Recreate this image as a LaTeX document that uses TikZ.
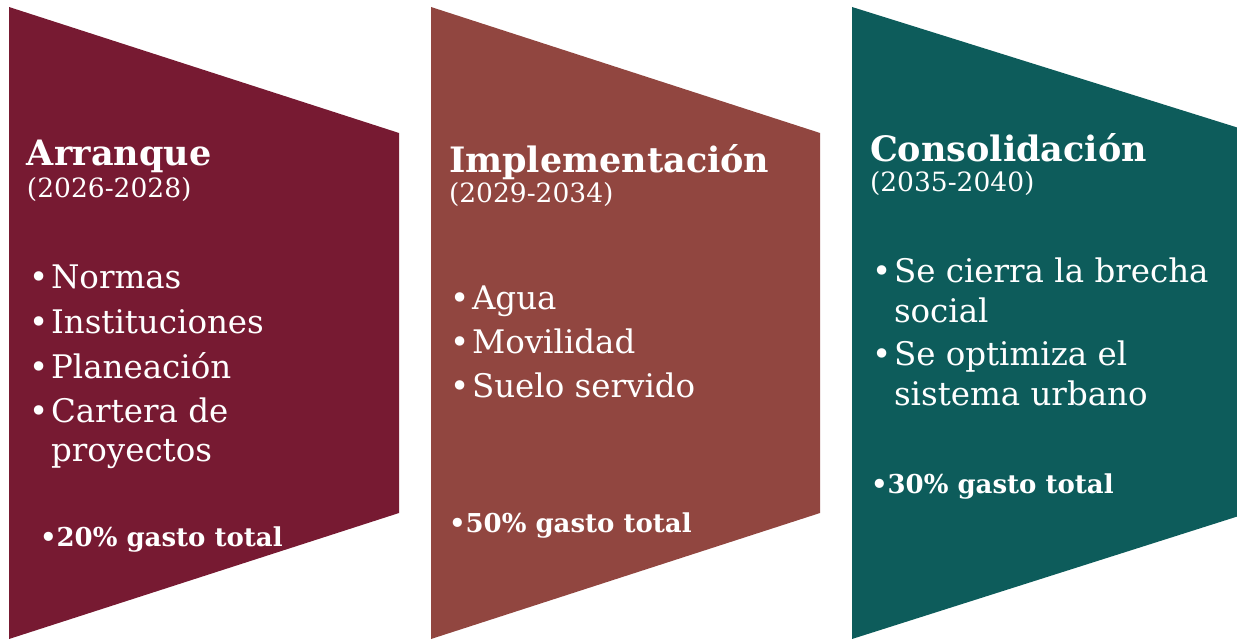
\documentclass[tikz,border=0pt]{standalone}
\usepackage{fontspec}
\setmainfont{DejaVu Serif}
\definecolor{pone}{HTML}{771A32}
\definecolor{ptwo}{HTML}{914640}
\definecolor{pthree}{HTML}{0D5C5B}
\begin{document}
\begin{tikzpicture}[x=1pt,y=-1pt,
  txt/.style={anchor=base west,inner sep=0pt,outer sep=0pt,text=white},
  title/.style={txt,font=\fontsize{35}{40}\bfseries\selectfont},
  years/.style={txt,font=\fontsize{26.5}{30}\selectfont},
  body/.style={txt,font=\fontsize{32.5}{40}\selectfont},
  share/.style={txt,font=\fontsize{26}{30}\bfseries\selectfont}]
\useasboundingbox (0,0) rectangle (1237,639);
\fill[white] (0,0) rectangle (1237,639);
% panels
\fill[pone]   (9,7) -- (399,133) -- (399,513) -- (9,639) -- cycle;
\fill[ptwo]   (431,7) -- (820,133) -- (820,513) -- (431,639) -- cycle;
\fill[pthree] (852,7) -- (1242,129) -- (1242,515) -- (852,639) -- cycle;
% panel 1
\node[title] (t1) at (27,166) {Arranque};
\node[years] (y1) at (27,198) {(2026-2028)};
\node[body] (a1) at (29,288) {\makebox[22pt][l]{•}Normas};
\node[body] (a2) at (29,333) {\makebox[22pt][l]{•}Instituciones};
\node[body] (a3) at (29,378) {\makebox[22pt][l]{•}Planeación};
\node[body] (a4) at (29,422) {\makebox[22pt][l]{•}Cartera de};
\node[body] (a5) at (51,461) {proyectos};
\node[share] (s1) at (40,546) {•20\% gasto total};
% panel 2
\node[title] (t2) at (449,173) {Implementación};
\node[years] (y2) at (449,203) {(2029-2034)};
\node[body] (b1) at (450,309) {\makebox[22pt][l]{•}Agua};
\node[body] (b2) at (450,353) {\makebox[22pt][l]{•}Movilidad};
\node[body] (b3) at (450,397) {\makebox[22pt][l]{•}Suelo servido};
\node[share] (s2) at (449,532) {•50\% gasto total};
% panel 3
\node[title] (t3) at (870,162) {Consolidación};
\node[years] (y3) at (870,192) {(2035-2040)};
\node[body] (c1) at (872,283) {\makebox[22pt][l]{•}Se cierra la brecha};
\node[body] (c2) at (894,322) {social};
\node[body] (c3) at (872,365) {\makebox[22pt][l]{•}Se optimiza el};
\node[body] (c4) at (894,405) {sistema urbano};
\node[share] (s3) at (871,493) {•30\% gasto total};
\end{tikzpicture}
\end{document}
